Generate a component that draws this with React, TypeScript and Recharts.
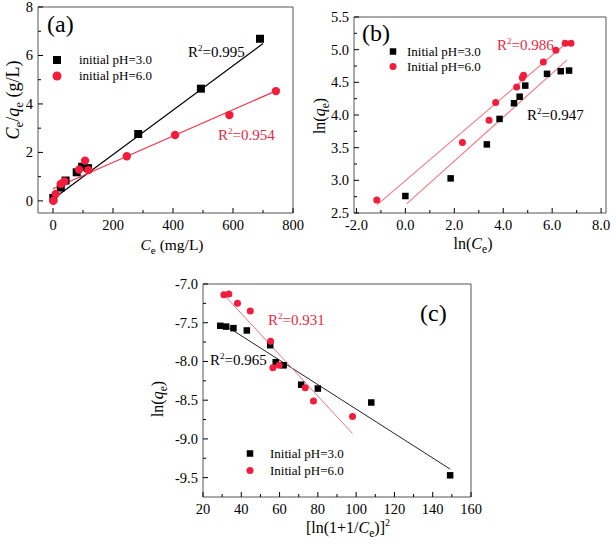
import React from "react";
import { ScatterChart, Scatter, XAxis, YAxis, ReferenceLine, Legend } from "recharts";

// ---------- data ----------
const aX3 = [1, 26, 42, 79, 97, 117, 284, 493, 690];
const aY3 = [0.12, 0.55, 0.84, 1.18, 1.41, 1.35, 2.76, 4.63, 6.69];
const aX6 = [1, 9, 26, 38, 87, 107, 118, 246, 407, 588, 743];
const aY6 = [0, 0.29, 0.7, 0.8, 1.29, 1.66, 1.27, 1.84, 2.72, 3.54, 4.53];
const aFit3 = [[0, 0.08], [700, 6.49]];
const aFit6 = [[0, 0.5], [745, 4.55]];

const bX3 = [0, 1.85, 3.33, 3.85, 4.44, 4.67, 4.9, 5.79, 6.35, 6.69];
const bY3 = [2.76, 3.03, 3.55, 3.94, 4.18, 4.28, 4.45, 4.63, 4.67, 4.68];
const bX6 = [-1.17, 2.33, 3.42, 3.69, 4.55, 4.78, 4.83, 5.64, 6.15, 6.53, 6.77];
const bY6 = [2.7, 3.58, 3.92, 4.19, 4.43, 4.57, 4.61, 4.81, 4.99, 5.1, 5.1];
const bFit3 = [[0.05, 2.64], [6.6, 4.84]];
const bFit6 = [[-1.17, 2.62], [6.55, 5.09]];

const cX3 = [29.0, 32.1, 35.9, 42.9, 55.1, 58.0, 62.1, 71.3, 80.0, 107.9, 149.1];
const cY3 = [-7.54, -7.55, -7.57, -7.6, -7.79, -8.01, -8.05, -8.3, -8.35, -8.53, -9.47];
const cX6 = [30.9, 33.5, 38.0, 44.7, 55.3, 56.5, 59.8, 73.4, 77.7, 98.1];
const cY6 = [-7.14, -7.13, -7.25, -7.35, -7.74, -8.08, -8.05, -8.34, -8.51, -8.71];
const cFit3 = [[33.8, -7.57], [149.1, -9.39]];
const cFit6 = [[32.1, -7.17], [98.1, -8.93]];

// ticks
const aXMajor = [0, 200, 400, 600, 800];
const aXMinor = [100, 300, 500, 700];
const aYMajor = [0, 2, 4, 6, 8];
const aYMinor = [1, 3, 5, 7];
const bXMajor = [-2, 0, 2, 4, 6, 8];
const bXMinor = [-1, 1, 3, 5, 7];
const bYMajor = [2.5, 3.0, 3.5, 4.0, 4.5, 5.0, 5.5];
const bYMinor = [2.75, 3.25, 3.75, 4.25, 4.75, 5.25];
const cXMajor = [20, 40, 60, 80, 100, 120, 140, 160];
const cXMinor = [30, 50, 70, 90, 110, 130, 150];
const cYMajor = [-7.0, -7.5, -8.0, -8.5, -9.0, -9.5];
const cYMinor = [-7.25, -7.75, -8.25, -8.75, -9.25];

const legendA = ["initial pH=3.0", "initial pH=6.0"];
const legendBC = ["Initial pH=3.0", "Initial pH=6.0"];

const zip = (xs: number[], ys: number[]) => xs.map((x, i) => ({ x, y: ys[i] }));
const seg = (s: number[][]) => s.map(([x, y]) => ({ x, y }));

const FONT = "'Liberation Serif', 'Times New Roman', serif";
const RED = "#f41c3c";
const FRAME = "#555";

const xTick = (majors: number[], fmt: (v: number) => string) => (p: any) => {
  const { x, y, payload } = p;
  const major = majors.includes(payload.value);
  return (
    <g>
      <line x1={x} x2={x} y1={y} y2={y - (major ? 5 : 3)} stroke="#000" strokeWidth={1} />
      {major && (
        <text x={x} y={y + 17} textAnchor="middle" fontFamily={FONT} fontSize={14.5} fill="#000">
          {fmt(payload.value)}
        </text>
      )}
    </g>
  );
};
const yTick = (majors: number[], fmt: (v: number) => string) => (p: any) => {
  const { x, y, payload } = p;
  const major = majors.includes(payload.value);
  return (
    <g>
      <line x1={x} x2={x + (major ? 5 : 3)} y1={y} y2={y} stroke="#000" strokeWidth={1} />
      {major && (
        <text x={x - 5} y={y + 5} textAnchor="end" fontFamily={FONT} fontSize={14.5} fill="#000">
          {fmt(payload.value)}
        </text>
      )}
    </g>
  );
};

const square = (s: number) => (p: any) => (
  <rect x={p.cx - s / 2} y={p.cy - s / 2} width={s} height={s} fill="#000" />
);
const circle = (r: number) => (p: any) => <circle cx={p.cx} cy={p.cy} r={r} fill={RED} />;

const legendContent = (labels: string[], sq: number, r: number, fs: number, gap: number, symX: number, textX: number) => () => (
  <div style={{ fontFamily: FONT, fontSize: fs, lineHeight: `${gap}px`, color: "#000" }}>
    {labels.map((t, i) => (
      <div key={t} style={{ display: "flex", alignItems: "center", height: gap, whiteSpace: "nowrap" }}>
        <svg width={textX} height={gap} style={{ flex: "none" }}>
          {i === 0 ? (
            <rect x={symX - sq / 2} y={gap / 2 - sq / 2} width={sq} height={sq} fill="#000" />
          ) : (
            <circle cx={symX} cy={gap / 2} r={r} fill={RED} />
          )}
        </svg>
        <span>{t}</span>
      </div>
    ))}
  </div>
);

const fmt0 = (v: number) => String(v);
const fmt1 = (v: number) => v.toFixed(1);

const Sub = ({ c }: { c: string }) => (
  <tspan fontSize="0.72em" dy="4">{c}</tspan>
);

export default function App() {
  return (
    <div style={{ position: "absolute", left: 0, top: 0, width: 616, height: 547, background: "#fff" }}>
      {/* Panel (a) */}
      <div style={{ position: "absolute", left: 0, top: 0 }}>
        <ScatterChart width={310} height={270} margin={{ top: 7, right: 17, bottom: 0, left: 0 }}>
          <XAxis type="number" dataKey="x" domain={[-50, 800]} allowDataOverflow ticks={[...aXMajor, ...aXMinor]}
            interval={0} tickSize={0} tickMargin={0} height={57} axisLine={{ stroke: FRAME }} tickLine={false}
            tick={xTick(aXMajor, fmt0)} />
          <YAxis type="number" dataKey="y" domain={[-0.5, 8]} allowDataOverflow ticks={[...aYMajor, ...aYMinor]}
            interval={0} tickSize={0} tickMargin={0} width={38} axisLine={{ stroke: FRAME }} tickLine={false}
            tick={yTick(aYMajor, fmt0)} />
          <ReferenceLine y={8} stroke={FRAME} />
          <ReferenceLine x={800} stroke={FRAME} />
          <ReferenceLine segment={seg(aFit3)} stroke="#000" strokeWidth={1.2} />
          <ReferenceLine segment={seg(aFit6)} stroke="#f0364c" strokeWidth={1.2} />
          <Scatter name={legendA[0]} data={zip(aX3, aY3)} fill="#000" shape={square(8)} isAnimationActive={false} />
          <Scatter name={legendA[1]} data={zip(aX6, aY6)} fill={RED} shape={circle(4.2)} isAnimationActive={false} />
          <Legend layout="vertical" align="center" verticalAlign="middle"
            wrapperStyle={{ left: 45, top: 52, width: "auto" }} content={legendContent(legendA, 8, 4.5, 13, 16, 12, 34)} />
        </ScatterChart>
      </div>

      {/* Panel (b) */}
      <div style={{ position: "absolute", left: 310, top: 0 }}>
        <ScatterChart width={306} height={270} margin={{ top: 17, right: 10, bottom: 0, left: 0 }}>
          <XAxis type="number" dataKey="x" domain={[-2.1, 8.2]} allowDataOverflow ticks={[...bXMajor, ...bXMinor]}
            interval={0} tickSize={0} tickMargin={0} height={57} axisLine={{ stroke: FRAME }} tickLine={false}
            tick={xTick(bXMajor, fmt1)} />
          <YAxis type="number" dataKey="y" domain={[2.5, 5.5]} allowDataOverflow ticks={[...bYMajor, ...bYMinor]}
            interval={0} tickSize={0} tickMargin={0} width={44} axisLine={{ stroke: FRAME }} tickLine={false}
            tick={yTick(bYMajor, fmt1)} />
          <ReferenceLine y={5.5} stroke={FRAME} />
          <ReferenceLine x={8.2} stroke={FRAME} />
          <ReferenceLine segment={seg(bFit3)} stroke="#f2808a" strokeWidth={1.2} />
          <ReferenceLine segment={seg(bFit6)} stroke="#f2808a" strokeWidth={1.2} />
          <Scatter name={legendBC[0]} data={zip(bX3, bY3)} fill="#000" shape={square(6.5)} isAnimationActive={false} />
          <Scatter name={legendBC[1]} data={zip(bX6, bY6)} fill={RED} shape={circle(3.5)} isAnimationActive={false} />
          <Legend layout="vertical" align="center" verticalAlign="middle"
            wrapperStyle={{ left: 72, top: 44, width: "auto" }} content={legendContent(legendBC, 6.5, 3.5, 13, 15, 11, 25)} />
        </ScatterChart>
      </div>

      {/* Panel (c) */}
      <div style={{ position: "absolute", left: 130, top: 270 }}>
        <ScatterChart width={375} height={277} margin={{ top: 14, right: 34, bottom: 0, left: 0 }}>
          <XAxis type="number" dataKey="x" domain={[20, 160]} allowDataOverflow ticks={[...cXMajor, ...cXMinor]}
            interval={0} tickSize={0} tickMargin={0} height={50} axisLine={{ stroke: FRAME }} tickLine={false}
            tick={xTick(cXMajor, fmt0)} />
          <YAxis type="number" dataKey="y" domain={[-9.75, -7.0]} allowDataOverflow ticks={[...cYMajor, ...cYMinor]}
            interval={0} tickSize={0} tickMargin={0} width={73} axisLine={{ stroke: FRAME }} tickLine={false}
            tick={yTick(cYMajor, fmt1)} />
          <ReferenceLine y={-7.0} stroke={FRAME} />
          <ReferenceLine x={160} stroke={FRAME} />
          <ReferenceLine segment={seg(cFit3)} stroke="#222" strokeWidth={1} />
          <ReferenceLine segment={seg(cFit6)} stroke="#f2707c" strokeWidth={1} />
          <Scatter name={legendBC[0]} data={zip(cX3, cY3)} fill="#000" shape={square(6.5)} isAnimationActive={false} />
          <Scatter name={legendBC[1]} data={zip(cX6, cY6)} fill={RED} shape={circle(3.5)} isAnimationActive={false} />
          <Legend layout="vertical" align="center" verticalAlign="middle"
            wrapperStyle={{ left: 110, top: 175, width: "auto" }} content={legendContent(legendBC, 6.5, 3.5, 13, 17, 10, 30)} />
        </ScatterChart>
      </div>

      {/* annotations */}
      <svg width={616} height={547} style={{ position: "absolute", left: 0, top: 0, pointerEvents: "none" }}
        fontFamily={FONT}>
        {/* panel (a) */}
        <text x={47} y={32} fontSize={24}>(a)</text>
        <text x={188} y={57} fontSize={15}>R<tspan fontSize={9} dy={-6}>2</tspan><tspan dy={6}>=0.995</tspan></text>
        <text x={218} y={140} fontSize={15} fill="#e8283f">R<tspan fontSize={9} dy={-6}>2</tspan><tspan dy={6}>=0.954</tspan></text>
        <text transform="translate(19,100) rotate(-90)" textAnchor="middle" fontSize={18}>
          <tspan fontStyle="italic">C</tspan><Sub c="e" /><tspan dy={-4}>/</tspan><tspan fontStyle="italic">q</tspan><Sub c="e" /><tspan dy={-4}> (g/L)</tspan>
        </text>
        <text x={172} y={250} textAnchor="middle" fontSize={15.5}>
          <tspan fontStyle="italic">C</tspan><Sub c="e" /><tspan dy={-4}> (mg/L)</tspan>
        </text>

        {/* panel (b) */}
        <text x={362} y={41} fontSize={24}>(b)</text>
        <text x={497} y={50} fontSize={15} fill="#e8283f">R<tspan fontSize={9} dy={-6}>2</tspan><tspan dy={6}>=0.986</tspan></text>
        <text x={527} y={120} fontSize={15}>R<tspan fontSize={9} dy={-6}>2</tspan><tspan dy={6}>=0.947</tspan></text>
        <text transform="translate(325,116) rotate(-90)" textAnchor="middle" fontSize={16}>
          ln(<tspan fontStyle="italic">q</tspan><Sub c="e" /><tspan dy={-4}>)</tspan>
        </text>
        <text x={473} y={249} textAnchor="middle" fontSize={16}>
          ln(<tspan fontStyle="italic">C</tspan><Sub c="e" /><tspan dy={-4}>)</tspan>
        </text>

        {/* panel (c) */}
        <text x={420} y={321} fontSize={24}>(c)</text>
        <text x={268} y={325} fontSize={15} fill="#e8283f">R<tspan fontSize={9} dy={-6}>2</tspan><tspan dy={6}>=0.931</tspan></text>
        <text x={210} y={365} fontSize={15}>R<tspan fontSize={9} dy={-6}>2</tspan><tspan dy={6}>=0.965</tspan></text>
        <text transform="translate(163,399) rotate(-90)" textAnchor="middle" fontSize={16}>
          ln(<tspan fontStyle="italic">q</tspan><Sub c="e" /><tspan dy={-4}>)</tspan>
        </text>
        <text x={348} y={533} textAnchor="middle" fontSize={16}>
          [ln(1+1/<tspan fontStyle="italic">C</tspan><Sub c="e" /><tspan dy={-4}>)]</tspan><tspan fontSize={10} dy={-7}>2</tspan>
        </text>
      </svg>
    </div>
  );
}
